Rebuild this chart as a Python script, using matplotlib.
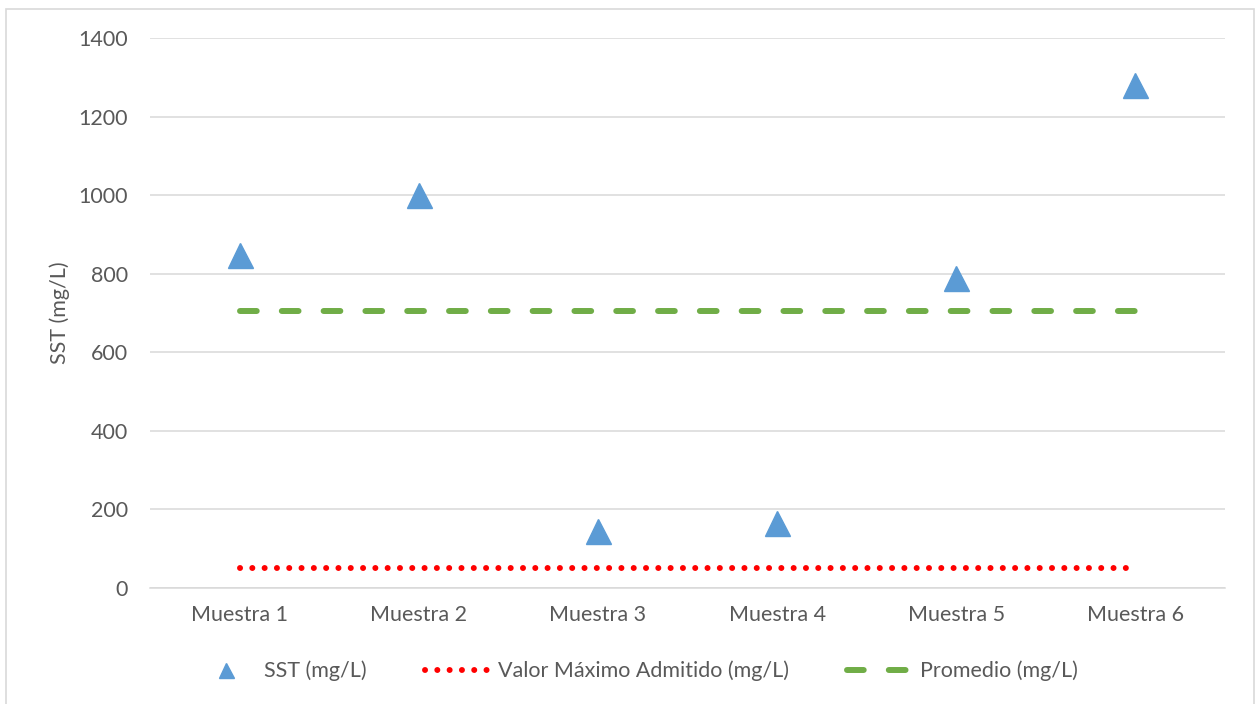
import matplotlib.pyplot as plt
from matplotlib.patches import Rectangle
import numpy as np

# muestras y valores de SST
muestras = ["Muestra 1", "Muestra 2", "Muestra 3", "Muestra 4", "Muestra 5", "Muestra 6"]
sst = [848, 1000, 145, 165, 790, 1280]
valor_maximo = [50, 50, 50, 50, 50, 50]
promedio = [705, 705, 705, 705, 705, 705]
y_ticks = [0, 200, 400, 600, 800, 1000, 1200, 1400]

AZUL = "#5B9BD5"
ROJO = "#FF0000"
VERDE = "#70AD47"
GRIS_TEXTO = "#595959"
GRIS_LINEA = "#D9D9D9"
FS = 15.5


def main():
    plt.rcParams["font.family"] = ["Lato", "DejaVu Sans"]
    fig = plt.figure(figsize=(12.56, 7.04), dpi=100)
    ax = fig.add_axes([150 / 1256, 116 / 704, 1075 / 1256, 550 / 704])

    x = np.arange(len(muestras))
    ax.plot(x, sst, linestyle="none", marker="^", markersize=18,
            color=AZUL, label="SST (mg/L)", zorder=3)
    ax.plot(x, valor_maximo, color=ROJO, linewidth=4.3,
            linestyle=(0, (0.01, 2.05)), dash_capstyle="round",
            label="Valor Máximo Admitido (mg/L)", zorder=2)
    ax.plot(x, promedio, color=VERDE, linewidth=4.3,
            linestyle=(0, (2.8, 4.2)), dash_capstyle="round",
            label="Promedio (mg/L)", zorder=2)

    ax.set_xlim(-0.5, len(muestras) - 0.5)
    ax.set_ylim(0, 1400)
    ax.set_yticks(y_ticks)
    ax.set_xticks(x)
    ax.set_xticklabels(muestras)
    ax.tick_params(length=0, labelsize=FS, labelcolor=GRIS_TEXTO)
    ax.tick_params(axis="y", pad=16)
    ax.tick_params(axis="x", pad=12)
    ax.grid(axis="y", color=GRIS_LINEA, linewidth=1.1)
    ax.set_axisbelow(True)
    for s in ["top", "right", "left"]:
        ax.spines[s].set_visible(False)
    ax.spines["bottom"].set_color(GRIS_LINEA)
    ax.spines["bottom"].set_linewidth(1.1)

    ax.set_ylabel("SST (mg/L)", fontsize=FS, color=GRIS_TEXTO, labelpad=6)

    # leyenda
    legend = fig.legend(loc="center", bbox_to_anchor=(0.505, 33 / 704),
                        ncol=3, frameon=False, fontsize=FS,
                        labelcolor=GRIS_TEXTO, handlelength=3.3,
                        handletextpad=0.1, columnspacing=2.7,
                        markerscale=0.6)

    # borde del área del gráfico
    fig.patches.append(Rectangle((6 / 1256, -0.02), 1248 / 1256, 0.02 + 695 / 704,
                                 transform=fig.transFigure, fill=False,
                                 edgecolor=GRIS_LINEA, linewidth=1.2))

    plt.savefig("out.png", dpi=100)


if __name__ == "__main__":
    main()
